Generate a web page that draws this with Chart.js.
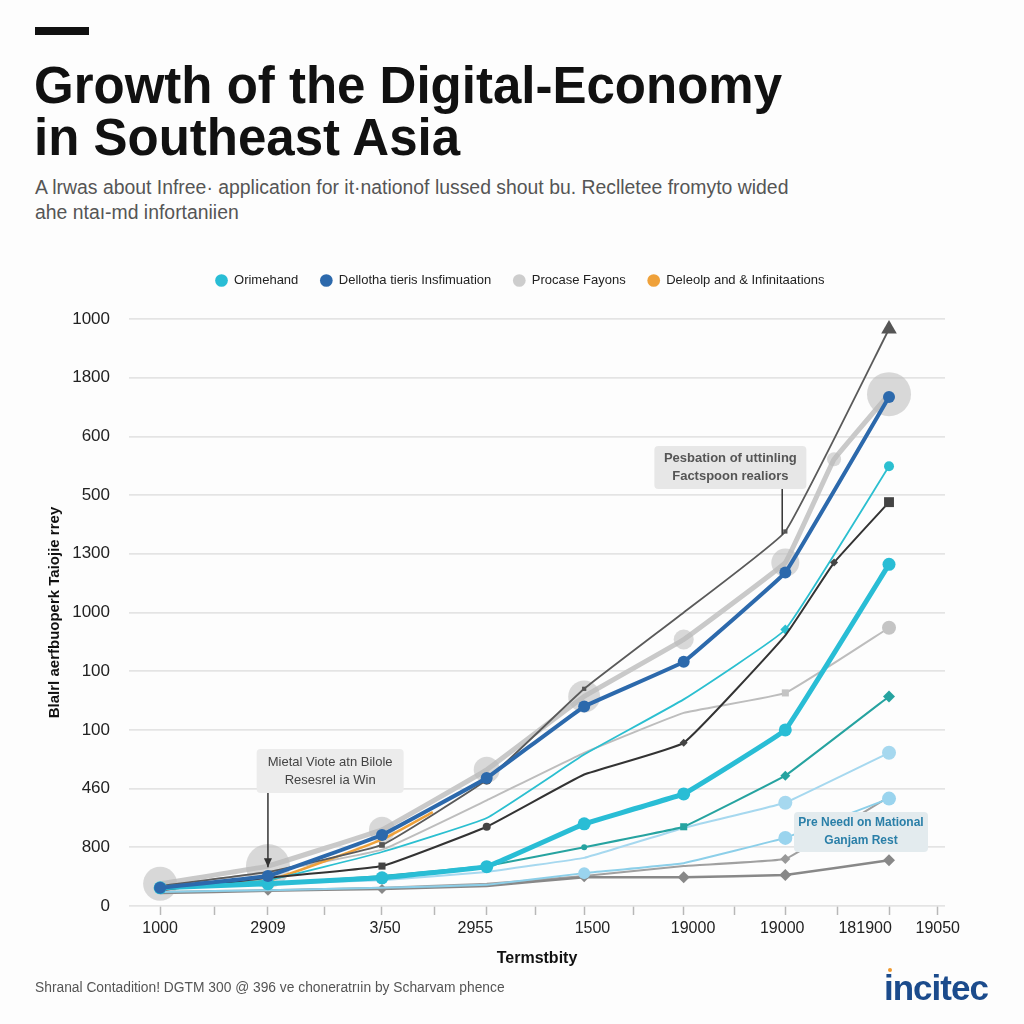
<!DOCTYPE html>
<html>
<head>
<meta charset="utf-8">
<title>Growth of the Digital-Economy in Southeast Asia</title>
<script src="https://cdn.jsdelivr.net/npm/chart.js@4.4.0/dist/chart.umd.min.js"></script>
<style>
  html, body { margin: 0; padding: 0; background: #fdfdfd; }
  body { width: 1024px; height: 1024px; position: relative; overflow: hidden; font-family: 'Liberation Sans', Arial, sans-serif; }
  .bar { position: absolute; left: 35px; top: 27px; width: 54px; height: 8px; background: #111; }
  h1 { position: absolute; left: 34px; top: 60px; margin: 0; font-size: 51px; line-height: 52px; font-weight: bold; color: #111; }
  .sub { position: absolute; left: 35px; top: 175px; width: 860px; margin: 0; font-size: 19.4px; line-height: 25px; color: #555; }
  .foot { position: absolute; left: 35px; top: 980px; font-size: 13.8px; color: #555; }
  .logo { position: absolute; left: 884px; top: 968px; font-size: 35px; font-weight: bold; color: #1b4b8c; letter-spacing: -1px; }
  .logo i { position: absolute; left: 4px; top: 0px; width: 4px; height: 4px; border-radius: 2px; background: #f09a30; }
  #wrap { position: absolute; left: 0; top: 0; width: 1024px; height: 1024px; }
</style>
</head>
<body>
<div class="bar"></div>
<h1>Growth of the Digital-Economy<br>in Southeast Asia</h1>
<p class="sub">A lrwas about Infree· application for it·nationof lussed shout bu. Reclletee fromyto wided<br>ahe ntaı-md infortaniien</p>
<div id="wrap"><canvas id="chart" width="1024" height="1024"></canvas></div>
<div class="foot">Shranal Contadition! DGTM 300 @ 396 ve choneratrıin by Scharvam phence</div>
<div class="logo">incitec<i></i></div>
<script>
// 軸標籤
const yTickLabels = ['0', '800', '460', '100', '100', '1000', '1300', '500', '600', '1800', '1000'];
const xTickLabels = ['1000', '2909', '3/50', '2955', '1500', '19000', '19000', '181900', '19050'];
const xLabelAt = [0, 1.04, 2.17, 3.04, 4.17, 5.14, 6.0, 6.8, 7.5];

// 時間點
const periods = [0, 1.04, 2.14, 3.15, 4.09, 5.05, 6.03, 7.03];
const periodsLong = [0, 1.04, 2.14, 3.15, 4.09, 5.05, 6.03, 6.5, 7.03];
const periodsShort = [0, 1.04, 2.14, 2.63];

// 圖例系列
const legendNames = ['Orimehand', 'Dellotha tieris Insfimuation', 'Procase Fayons', 'Deleolp and & Infinitaations'];
const orimehand = [0.31, 0.38, 0.48, 0.67, 1.40, 1.91, 3.00, 5.82];
const dellotha = [0.31, 0.51, 1.21, 2.18, 3.40, 4.16, 5.68, 8.67];
const procase = [0.38, 0.68, 1.30, 2.32, 3.57, 4.54, 5.85, 7.61, 8.72];
const deleolp = [0.32, 0.43, 1.13, 1.60];

// 其他線
const darkTrend = [0.34, 0.58, 1.04, 2.15, 3.70, 5.00, 6.38, 9.83];
const cyanTrend = [0.31, 0.44, 0.92, 1.50, 2.58, 3.52, 4.71, 7.49];
const blackTrend = [0.27, 0.48, 0.68, 1.35, 2.24, 2.78, 4.61, 5.85, 6.88];
const greyTrend = [0.34, 0.58, 0.96, 1.80, 2.61, 3.29, 3.63, 4.74];
const tealTrend = [0.34, 0.38, 0.51, 0.68, 1.00, 1.35, 2.22, 3.57];
const skyTrend = [0.31, 0.38, 0.44, 0.58, 0.82, 1.33, 1.76, 2.61];
const paleTrend = [0.24, 0.27, 0.31, 0.36, 0.56, 0.73, 1.16, 1.83];
const floorTrend = [0.22, 0.26, 0.29, 0.34, 0.49, 0.49, 0.53, 0.78];
const slateTrend = [0.24, 0.27, 0.31, 0.38, 0.51, 0.68, 0.80, 1.86];

const legendColors = ['#29bdd5', '#2c69ac', '#cdcdcd', '#efa13a'];

const pts = (xs, ys) => ys.map((y, i) => ({ x: xs[i], y: y }));

// x 軸刻度: 點位 + 中點 + 標籤
const xMarks = periods.concat(periods.slice(1).map((p, i) => (p + periods[i]) / 2), [xLabelAt[xLabelAt.length - 1]]);
const xTicks = [];
xLabelAt.forEach((v, i) => xTicks.push({ value: v, label: xTickLabels[i], mark: false }));
xMarks.forEach(v => {
  const same = xTicks.find(t => Math.abs(t.value - v) < 0.01);
  if (same) same.mark = true;
  else xTicks.push({ value: v, label: '', mark: true });
});
xTicks.sort((a, b) => a.value - b.value);

// 註解框
const notes = [
  { lines: ['Pesbation of uttinling', 'Factspoon realiors'], x: 5.5, y: 7.47, w: 152, h: 43, size: 13, bg: '#e7e7e7', color: '#555', weight: 'bold', line: { x: 6.0, to: 6.33, arrow: false } },
  { lines: ['Mietal Viote atn Bilole', 'Resesrel ia Win'], x: 1.64, y: 2.30, w: 147, h: 44, size: 13, bg: '#ececec', color: '#444', weight: 'normal', line: { x: 1.04, to: 0.66, arrow: true } },
  { lines: ['Pre Needl on Mational', 'Ganjam Rest'], x: 6.76, y: 1.26, w: 134, h: 40, size: 12, bg: '#e3ebee', color: '#2a7fa8', weight: 'bold' }
];

const notesPlugin = {
  id: 'notes',
  afterDatasetsDraw(chart) {
    const { ctx, scales: { x, y } } = chart;
    ctx.save();
    notes.forEach(n => {
      const cx = x.getPixelForValue(n.x), cy = y.getPixelForValue(n.y);
      const left = cx - n.w / 2, top = cy - n.h / 2;
      if (n.line) {
        const lx = x.getPixelForValue(n.line.x), ly = y.getPixelForValue(n.line.to);
        ctx.strokeStyle = '#333';
        ctx.lineWidth = 1.5;
        ctx.beginPath();
        ctx.moveTo(lx, top + n.h);
        ctx.lineTo(lx, ly);
        ctx.stroke();
        if (n.line.arrow) {
          ctx.fillStyle = '#333';
          ctx.beginPath();
          ctx.moveTo(lx - 4, ly - 9);
          ctx.lineTo(lx + 4, ly - 9);
          ctx.lineTo(lx, ly);
          ctx.closePath();
          ctx.fill();
        }
      }
      ctx.fillStyle = n.bg;
      ctx.beginPath();
      ctx.roundRect(left, top, n.w, n.h, 4);
      ctx.fill();
      ctx.fillStyle = n.color;
      ctx.font = n.weight + ' ' + n.size + 'px "Liberation Sans", Arial, sans-serif';
      ctx.textAlign = 'center';
      ctx.textBaseline = 'middle';
      ctx.fillText(n.lines[0], cx, cy - 9);
      ctx.fillText(n.lines[1], cx, cy + 9);
    });
    ctx.restore();
  }
};

// 圖例下方留白, 並稍微左移
const legendGap = {
  id: 'legendGap',
  beforeInit(chart) {
    const fit = chart.legend.fit;
    chart.legend.fit = function () {
      fit.bind(chart.legend)();
      this.height += 22;
    };
  },
  afterLayout(chart) {
    chart.legend.left -= 17;
    chart.legend.right -= 17;
  }
};

document.addEventListener('DOMContentLoaded', function () {
  Chart.defaults.font.family = '"Liberation Sans", Arial, sans-serif';
  const ctx = document.getElementById('chart').getContext('2d');

  new Chart(ctx, {
    type: 'line',
    data: {
      datasets: [
        { label: legendNames[0], data: pts(periods, orimehand), borderColor: '#29bdd5', backgroundColor: '#29bdd5', borderWidth: 5, pointRadius: 6.5, pointBorderWidth: 0, pointBackgroundColor: '#29bdd5', tension: 0.05, order: 1 },
        { label: legendNames[1], data: pts(periods, dellotha), borderColor: '#2c69ac', backgroundColor: '#2c69ac', borderWidth: 4, pointRadius: 6, pointBorderWidth: 0, pointBackgroundColor: '#2c69ac', tension: 0.05, order: 0 },
        { label: legendNames[2], data: pts(periodsLong, procase), borderColor: '#c9c9c9', borderWidth: 5, pointRadius: [17, 22, 13, 13, 16, 10, 14, 7, 22], pointBorderWidth: 0, pointBackgroundColor: 'rgba(185,185,185,0.55)', tension: 0.05, order: 9 },
        { label: legendNames[3], data: pts(periodsShort, deleolp), borderColor: '#efa13a', borderWidth: 2.5, pointRadius: 0, tension: 0.1, order: 6 },
        { label: 'dark', data: pts(periods, darkTrend), borderColor: '#5a5a5a', borderWidth: 1.8, pointStyle: ['circle', 'circle', 'rect', 'circle', 'rect', 'circle', 'rect', 'triangle'], pointRadius: [0, 0, 4, 5, 3, 0, 3, 9], pointBorderWidth: 0, pointBackgroundColor: '#555', tension: 0.1, order: 3 },
        { label: 'cyan', data: pts(periods, cyanTrend), borderColor: '#2bbfd0', borderWidth: 1.8, pointStyle: ['circle', 'circle', 'circle', 'circle', 'circle', 'circle', 'rectRot', 'circle'], pointRadius: [0, 0, 0, 0, 0, 0, 5, 5], pointBorderWidth: 0, pointBackgroundColor: '#2bbfd0', tension: 0.1, order: 4 },
        { label: 'black', data: pts(periodsLong, blackTrend), borderColor: '#333', borderWidth: 2, pointStyle: ['circle', 'circle', 'rect', 'circle', 'circle', 'rectRot', 'circle', 'rectRot', 'rect'], pointRadius: [0, 0, 5, 4, 0, 4, 0, 4, 7], pointBorderWidth: 0, pointBackgroundColor: '#444', tension: 0.1, order: 2 },
        { label: 'grey', data: pts(periods, greyTrend), borderColor: '#bdbdbd', borderWidth: 2, pointStyle: ['circle', 'circle', 'circle', 'circle', 'circle', 'circle', 'rect', 'circle'], pointRadius: [0, 0, 0, 0, 0, 0, 5, 7], pointBorderWidth: 0, pointBackgroundColor: '#c4c4c4', tension: 0.1, order: 7 },
        { label: 'teal', data: pts(periods, tealTrend), borderColor: '#26a3a0', borderWidth: 2, pointStyle: ['circle', 'circle', 'circle', 'circle', 'circle', 'rect', 'rectRot', 'rectRot'], pointRadius: [0, 0, 0, 0, 3, 5, 5, 6], pointBorderWidth: 0, pointBackgroundColor: '#26a3a0', tension: 0.05, order: 5 },
        { label: 'sky', data: pts(periods, skyTrend), borderColor: '#a6d8ef', borderWidth: 2, pointRadius: [0, 0, 0, 0, 0, 0, 7, 7], pointBorderWidth: 0, pointBackgroundColor: '#a6d8ef', tension: 0.05, order: 6 },
        { label: 'pale', data: pts(periods, paleTrend), borderColor: '#8ccfe9', borderWidth: 2, pointRadius: [0, 0, 0, 0, 6, 0, 7, 7], pointBorderWidth: 0, pointBackgroundColor: '#9ad4ee', tension: 0.05, order: 6 },
        { label: 'floor', data: pts(periods, floorTrend), borderColor: '#888', borderWidth: 2.5, pointStyle: 'rectRot', pointRadius: [0, 5, 5, 0, 5, 6, 6, 6], pointBorderWidth: 0, pointBackgroundColor: '#888', tension: 0.05, order: 8 },
        { label: 'slate', data: pts(periods, slateTrend), borderColor: '#a0a0a0', borderWidth: 2, pointStyle: 'rectRot', pointRadius: [0, 0, 0, 0, 0, 0, 5, 0], pointBorderWidth: 0, pointBackgroundColor: '#999', tension: 0.05, order: 8 }
      ]
    },
    options: {
      responsive: false,
      animation: false,
      clip: false,
      layout: { padding: { top: 252, left: 40, right: 79, bottom: 56 } },
      scales: {
        x: {
          type: 'linear',
          min: -0.3,
          max: 7.57,
          afterBuildTicks: (scale) => { scale.ticks = xTicks.map(t => ({ value: t.value })); },
          afterFit: (scale) => { scale.height = 62; },
          ticks: {
            autoSkip: false,
            maxRotation: 0,
            padding: 4,
            color: '#222',
            font: { size: 16 },
            callback: (v, i) => (xTicks[i] ? xTicks[i].label : '')
          },
          grid: {
            drawOnChartArea: false,
            drawTicks: true,
            tickLength: 9,
            tickWidth: 1.5,
            tickColor: (c) => (xTicks[c.index] && xTicks[c.index].mark ? '#b8b8b8' : 'rgba(0,0,0,0)')
          },
          border: { display: false },
          title: { display: true, text: 'Termstbity', color: '#111', font: { size: 16, weight: 'bold' }, padding: { top: 3, bottom: 0 } }
        },
        y: {
          min: 0,
          max: 10,
          afterFit: (scale) => { scale.width = 89; },
          ticks: {
            stepSize: 1,
            padding: 19,
            color: '#222',
            font: { size: 17 },
            callback: (v) => yTickLabels[v]
          },
          grid: { color: '#e4e4e4', lineWidth: 1.8, drawTicks: false },
          border: { display: false },
          title: { display: true, text: 'Blalrl aerfbuoperk Taiojie rrey', color: '#111', font: { size: 15, weight: 'bold' }, padding: { top: 6, bottom: 0 } }
        }
      },
      plugins: {
        legend: {
          position: 'top',
          fullSize: false,
          labels: {
            usePointStyle: true,
            boxWidth: 12,
            boxHeight: 9,
            padding: 22,
            color: '#222',
            font: { size: 13 },
            generateLabels: () => legendNames.map((name, i) => ({
              text: name,
              fillStyle: legendColors[i],
              strokeStyle: legendColors[i],
              lineWidth: 0,
              pointStyle: 'circle',
              hidden: false,
              datasetIndex: i,
              fontColor: '#222'
            }))
          }
        },
        tooltip: { enabled: false }
      }
    },
    plugins: [notesPlugin, legendGap]
  });
});
</script>
</body>
</html>
